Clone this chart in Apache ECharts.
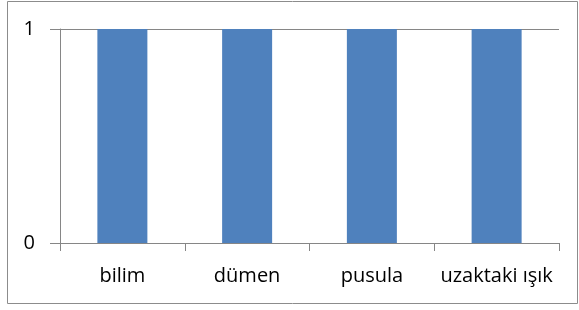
<!DOCTYPE html>
<html>
<head>
<meta charset="utf-8">
<script src="https://cdn.jsdelivr.net/npm/echarts@6/dist/echarts.min.js"></script>
<style>
html,body{margin:0;padding:0;background:#fff;}
#chart{width:579px;height:310px;}
</style>
</head>
<body>
<div id="chart"></div>
<script>
var categories=['bilim','dümen','pusula','uzaktaki ışık'];
var values=[1,1,1,1];
var yTicks=[0,1];

var chart=echarts.init(document.getElementById('chart'));
var option={
    animation:false,
    graphic:[{
        type:'rect',
        shape:{x:7.5,y:1.5,width:570,height:302},
        style:{fill:'none',stroke:'#8c8c8c',lineWidth:1}
    }],
    grid:{left:60,right:20,top:29,bottom:67,containLabel:false},
    xAxis:{
        type:'category',
        data:categories,
        axisLine:{lineStyle:{color:'#868686'}},
        axisTick:{show:true,length:8,interval:0,lineStyle:{color:'#868686'}},
        axisLabel:{color:'#000',fontSize:20,fontFamily:'Open Sans',margin:23,interval:0,hideOverlap:false}
    },
    yAxis:{
        type:'value',
        min:yTicks[0],
        max:yTicks[yTicks.length-1],
        interval:1,
        axisLine:{show:true,lineStyle:{color:'#868686'}},
        axisTick:{show:true,length:10,lineStyle:{color:'#868686'}},
        axisLabel:{color:'#000',fontSize:20,fontFamily:'Open Sans',margin:25},
        splitLine:{show:true,lineStyle:{color:'#868686'}}
    },
    series:[{
        type:'bar',
        data:values,
        barWidth:50,
        itemStyle:{color:'#4f81bd'}
    }]
};
chart.setOption(option);
</script>
</body>
</html>
